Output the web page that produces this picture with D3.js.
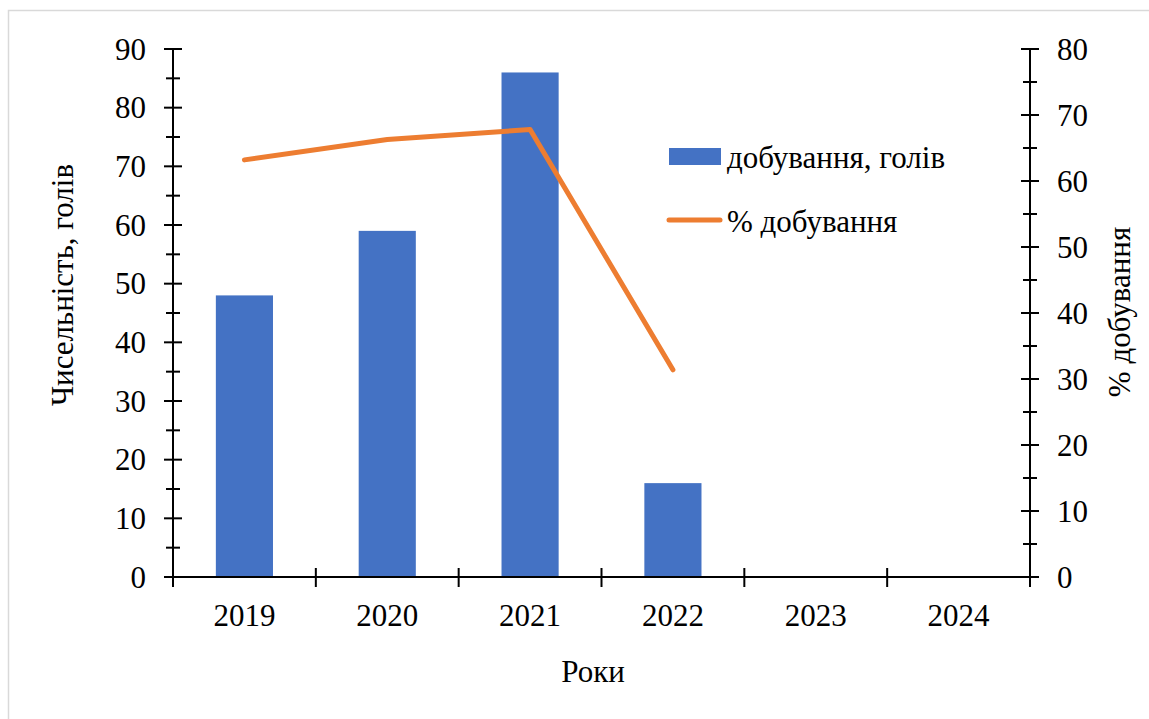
<!DOCTYPE html>
<html>
<head>
<meta charset="utf-8">
<script src="https://cdn.jsdelivr.net/npm/d3@7"></script>
<style>
  html, body { margin: 0; padding: 0; background: #fff; }
  svg { display: block; }
</style>
</head>
<body>
<svg id="chart" width="1149" height="719"></svg>
<script>
// Chart data
const years = ["2019", "2020", "2021", "2022", "2023", "2024"];
const harvestHeads = [48, 59, 86, 16, null, null];           // добування, голів
const harvestPercent = [63.2, 66.3, 67.8, 31.4, null, null]; // % добування
const leftTicks = [0, 10, 20, 30, 40, 50, 60, 70, 80, 90];
const rightTicks = [0, 10, 20, 30, 40, 50, 60, 70, 80];

const FONT = "'Liberation Serif'";
const FS = 31;
const svg = d3.select("#chart");
const m = { left: 173, right: 1030, top: 49, bottom: 577 };

function label(sel) {
  return sel.style("font-family", FONT).attr("font-size", FS).attr("fill", "#000");
}

// outer frame
svg.append("rect")
  .attr("x", 8.5).attr("y", 10.5)
  .attr("width", 1160).attr("height", 760)
  .attr("fill", "#fff").attr("stroke", "#d9d9d9").attr("stroke-width", 1.5);

const x = d3.scaleBand().domain(years).range([m.left, m.right]).paddingInner(0).paddingOuter(0);
const yL = d3.scaleLinear().domain([0, 90]).range([m.bottom, m.top]);
const yR = d3.scaleLinear().domain([0, 80]).range([m.bottom, m.top]);

const barW = x.bandwidth() * 0.4;

// bars
svg.append("g").selectAll("rect")
  .data(years.map((y, i) => ({ y, v: harvestHeads[i] })).filter(d => d.v != null))
  .join("rect")
  .attr("x", d => x(d.y) + x.bandwidth() / 2 - barW / 2)
  .attr("y", d => yL(d.v))
  .attr("width", barW)
  .attr("height", d => yL(0) - yL(d.v))
  .attr("fill", "#4472C4");

// line
const lineData = years.map((y, i) => ({ y, v: harvestPercent[i] })).filter(d => d.v != null);
svg.append("path")
  .datum(lineData)
  .attr("fill", "none")
  .attr("stroke", "#ED7D31")
  .attr("stroke-width", 5)
  .attr("stroke-linecap", "round")
  .attr("stroke-linejoin", "round")
  .attr("d", d3.line().x(d => x(d.y) + x.bandwidth() / 2).y(d => yR(d.v)));

// left axis
const gL = svg.append("g").attr("transform", `translate(${m.left},0)`);
gL.append("line").attr("y1", m.top).attr("y2", m.bottom).attr("stroke", "#000").attr("stroke-width", 2);
gL.selectAll(".maj").data(leftTicks).join("line")
  .attr("x1", -9).attr("x2", 9).attr("y1", d => yL(d)).attr("y2", d => yL(d))
  .attr("stroke", "#000").attr("stroke-width", 2);
gL.selectAll(".min").data(leftTicks.slice(0, -1).map(d => d + 5)).join("line")
  .attr("x1", -7).attr("x2", 7).attr("y1", d => yL(d)).attr("y2", d => yL(d))
  .attr("stroke", "#000").attr("stroke-width", 2);
label(gL.selectAll("text").data(leftTicks).join("text"))
  .attr("x", -27).attr("y", d => yL(d)).attr("dy", "0.34em")
  .attr("text-anchor", "end")
  .text(d => d);

// right axis
const gR = svg.append("g").attr("transform", `translate(${m.right},0)`);
gR.append("line").attr("y1", m.top).attr("y2", m.bottom).attr("stroke", "#000").attr("stroke-width", 2);
gR.selectAll(".maj").data(rightTicks).join("line")
  .attr("x1", -9).attr("x2", 9).attr("y1", d => yR(d)).attr("y2", d => yR(d))
  .attr("stroke", "#000").attr("stroke-width", 2);
gR.selectAll(".min").data(rightTicks.slice(0, -1).map(d => d + 5)).join("line")
  .attr("x1", -7).attr("x2", 7).attr("y1", d => yR(d)).attr("y2", d => yR(d))
  .attr("stroke", "#000").attr("stroke-width", 2);
label(gR.selectAll("text").data(rightTicks).join("text"))
  .attr("x", 27).attr("y", d => yR(d)).attr("dy", "0.34em")
  .attr("text-anchor", "start")
  .text(d => d);

// x axis
const gX = svg.append("g").attr("transform", `translate(0,${m.bottom})`);
gX.append("line").attr("x1", m.left).attr("x2", m.right).attr("stroke", "#000").attr("stroke-width", 2);
const bounds = years.map(y => x(y)).concat([m.right]);
gX.selectAll(".tk").data(bounds).join("line")
  .attr("x1", d => d).attr("x2", d => d).attr("y1", -9).attr("y2", 10)
  .attr("stroke", "#000").attr("stroke-width", 2);
label(gX.selectAll("text").data(years).join("text"))
  .attr("x", d => x(d) + x.bandwidth() / 2).attr("y", 49)
  .attr("text-anchor", "middle")
  .text(d => d);

// axis titles
label(svg.append("text"))
  .attr("transform", "translate(73,285) rotate(-90)")
  .attr("text-anchor", "middle")
  .text("Чисельність, голів");
label(svg.append("text"))
  .attr("transform", "translate(1130,312) rotate(-90)")
  .attr("text-anchor", "middle")
  .text("% добування");
label(svg.append("text"))
  .attr("x", 593).attr("y", 682)
  .attr("text-anchor", "middle")
  .text("Роки");

// legend
const lg = svg.append("g");
lg.append("rect").attr("x", 669).attr("y", 148).attr("width", 52).attr("height", 17).attr("fill", "#4472C4");
label(lg.append("text")).attr("x", 727).attr("y", 168).text("добування, голів");
lg.append("line").attr("x1", 669).attr("x2", 720).attr("y1", 220).attr("y2", 220)
  .attr("stroke", "#ED7D31").attr("stroke-width", 5).attr("stroke-linecap", "round");
label(lg.append("text")).attr("x", 727).attr("y", 232).text("% добування");
</script>
</body>
</html>
